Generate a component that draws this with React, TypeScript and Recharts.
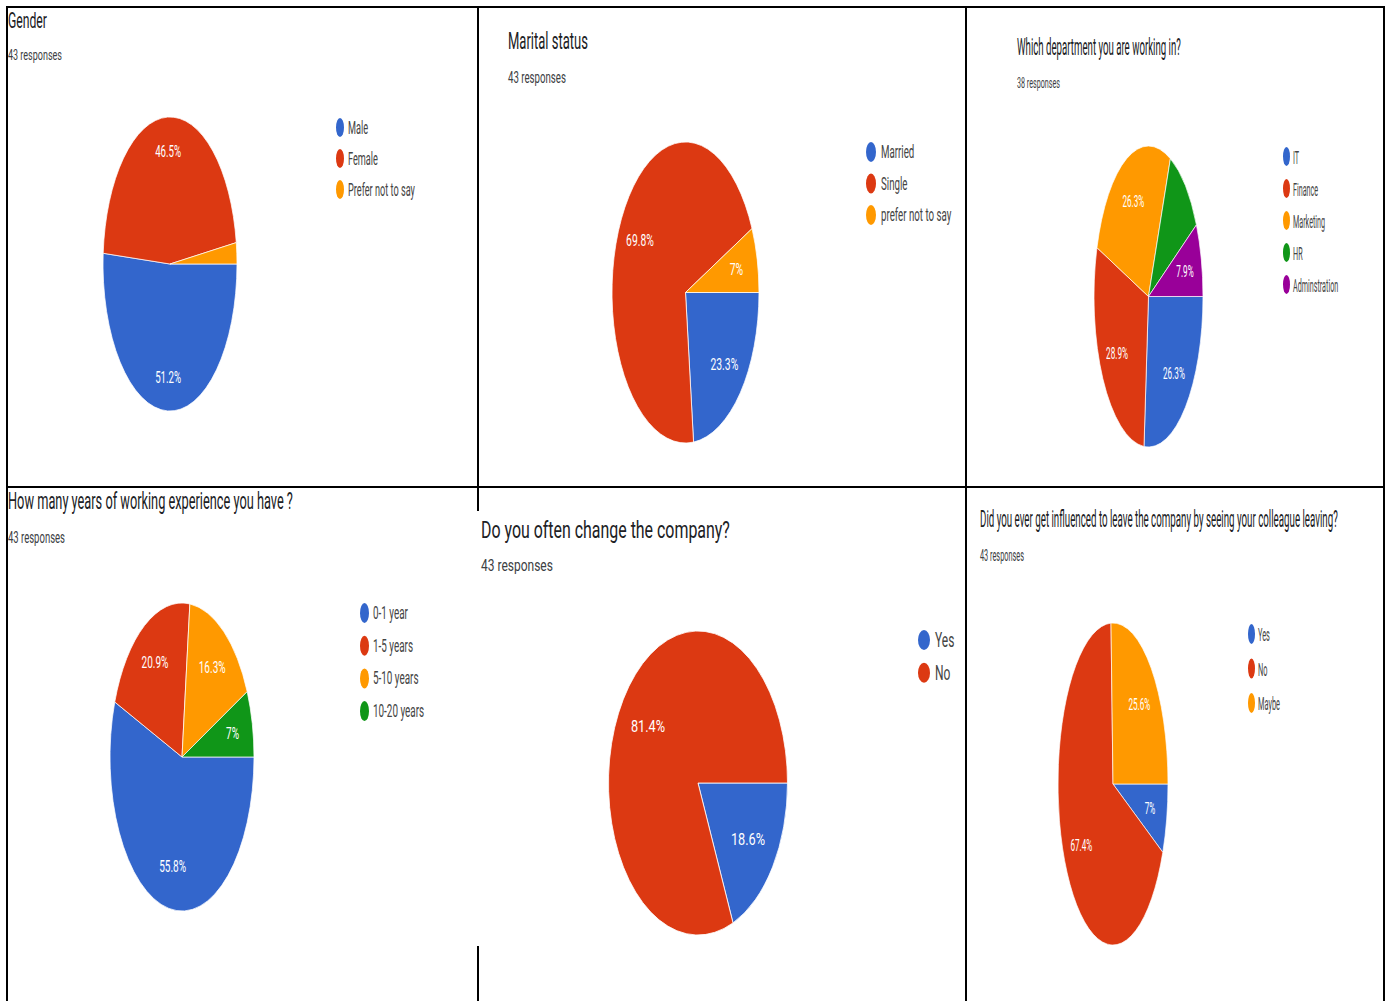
import { PieChart, Pie, Cell } from 'recharts';

// survey questions (Google Forms screenshots)
const titles = [
    'Gender',
    'Marital status',
    'Which department you are working in?',
    'How many years of working experience you have ?',
    'Do you often change the company?',
    'Did you ever get influenced to leave the company by seeing your colleague leaving?',
];
const responseCounts = [43, 43, 38, 43, 43, 43];

const genderCategories = ['Male', 'Female', 'Prefer not to say'];
const genderCounts = [22, 20, 1];

const maritalCategories = ['Married', 'Single', 'prefer not to say'];
const maritalCounts = [10, 30, 3];

const departmentCategories = ['IT', 'Finance', 'Marketing', 'HR', 'Adminstration'];
const departmentCounts = [10, 11, 10, 4, 3];

const experienceCategories = ['0-1 year', '1-5 years', '5-10 years', '10-20 years'];
const experienceCounts = [24, 9, 7, 3];

const changeCategories = ['Yes', 'No'];
const changeCounts = [8, 35];

const influenceCategories = ['Yes', 'No', 'Maybe'];
const influenceCounts = [3, 29, 11];

const SLICE_COLORS = ['#3366cc', '#dc3912', '#ff9900', '#109618', '#990099'];
const FONT = 'Roboto, Arial, sans-serif';

// layout of each screenshot tile (positions / sizes only)
const panels = [
    {
        categories: genderCategories, counts: genderCounts, hide: ['Prefer not to say'],
        pie: { cx: 170, cy: 264, rx: 67, ry: 147 }, labelR: 0.77, labelSx: 0.57,
        title: { x: 8, y: 27.5, size: 22, w: 39 }, sub: { x: 8, y: 60, size: 15, w: 54 },
        legend: { dotX: 340, dotRx: 4, dotRy: 9.5, textX: 348, y0: 127.5, dy: 31, size: 18, sx: 0.51 },
    },
    {
        categories: maritalCategories, counts: maritalCounts, hide: [],
        pie: { cx: 685.5, cy: 292.5, rx: 73.5, ry: 150.5 }, labelR: 0.71, labelSx: 0.61,
        title: { x: 508, y: 49, size: 24, w: 80 }, sub: { x: 508, y: 82.5, size: 16.5, w: 58 },
        legend: { dotX: 871, dotRx: 5, dotRy: 10, textX: 881, y0: 152, dy: 31.5, size: 18, sx: 0.54 },
    },
    {
        categories: departmentCategories, counts: departmentCounts, hide: ['HR'],
        pie: { cx: 1148.5, cy: 296.5, rx: 54.5, ry: 150.5 }, labelR: 0.69, labelSx: 0.48,
        title: { x: 1017, y: 55, size: 23, w: 164 }, sub: { x: 1017, y: 88, size: 15.5, w: 43 },
        legend: { dotX: 1286.5, dotRx: 3.5, dotRy: 9.5, textX: 1293, y0: 156.5, dy: 32, size: 18, sx: 0.4 },
    },
    {
        categories: experienceCategories, counts: experienceCounts, hide: [],
        pie: { cx: 182, cy: 757, rx: 72, ry: 154 }, labelR: 0.72, labelSx: 0.59,
        title: { x: 8, y: 509, size: 24, w: 285 }, sub: { x: 8, y: 543, size: 16, w: 57 },
        legend: { dotX: 364.5, dotRx: 4.5, dotRy: 10, textX: 373, y0: 613, dy: 32.7, size: 18, sx: 0.55 },
    },
    {
        categories: changeCategories, counts: changeCounts, hide: [],
        pie: { cx: 697.5, cy: 783, rx: 89.5, ry: 152 }, labelR: 0.67, labelSx: 0.75,
        title: { x: 481, y: 537.5, size: 24, w: 249 }, sub: { x: 481, y: 571, size: 17, w: 72 },
        legend: { dotX: 924, dotRx: 6, dotRy: 10, textX: 935, y0: 640, dy: 32.7, size: 20, sx: 0.6 },
    },
    {
        categories: influenceCategories, counts: influenceCounts, hide: [],
        pie: { cx: 1113, cy: 784, rx: 55, ry: 161 }, labelR: 0.69, labelSx: 0.48,
        title: { x: 980, y: 526.5, size: 23, w: 358 }, sub: { x: 980, y: 561, size: 16, w: 44 },
        legend: { dotX: 1251.5, dotRx: 3.5, dotRy: 10, textX: 1258, y0: 634, dy: 34.5, size: 18, sx: 0.41 },
    },
];

type PanelCfg = typeof panels[number];

// the screenshots are squeezed sideways, so text is scaled to the measured width
const measureCtx = document.createElement('canvas').getContext('2d');
function squeeze(str: string, size: number, target: number) {
    if (!measureCtx) return 1;
    measureCtx.font = `${size}px Roboto`;
    const w = measureCtx.measureText(str).width;
    return w > 0 ? target / w : 1;
}

function PiePanel({ cfg }: { cfg: PanelCfg }) {
    const { cx, cy, rx, ry } = cfg.pie;
    const S = Math.ceil(2 * ry + 6);
    const sx = rx / ry;
    const total = cfg.counts.reduce((a, b) => a + b, 0);
    const data = cfg.categories.map((name, i) => ({ name, value: cfg.counts[i] }));

    const renderLabel = (p: any) => {
        const name = cfg.categories[p.index];
        if (cfg.hide.includes(name)) return null;
        const RAD = Math.PI / 180;
        const r = p.outerRadius * cfg.labelR;
        const x = p.cx + r * Math.cos(-p.midAngle * RAD);
        const y = p.cy + r * Math.sin(-p.midAngle * RAD);
        const pct = parseFloat(((cfg.counts[p.index] / total) * 100).toFixed(1));
        return (
            <text
                key={`lbl-${p.index}`}
                transform={`translate(${x},${y}) scale(${cfg.labelSx / sx},1)`}
                textAnchor="middle"
                dominantBaseline="central"
                fill="#ffffff"
                fontSize={17}
                fontFamily={FONT}
            >
                {`${pct}%`}
            </text>
        );
    };

    return (
        <div
            style={{
                position: 'absolute', left: cx - S / 2, top: cy - S / 2, width: S, height: S,
                transform: `scaleX(${sx})`, transformOrigin: '50% 50%',
            }}
        >
            <PieChart width={S} height={S} margin={{ top: 0, right: 0, bottom: 0, left: 0 }}>
                <Pie
                    data={data}
                    dataKey="value"
                    nameKey="name"
                    cx="50%"
                    cy="50%"
                    outerRadius={ry}
                    startAngle={0}
                    endAngle={-360}
                    stroke="#ffffff"
                    strokeWidth={1}
                    label={renderLabel}
                    labelLine={false}
                    isAnimationActive={false}
                >
                    {data.map((_d, i) => (
                        <Cell key={`cell-${i}`} fill={SLICE_COLORS[i % SLICE_COLORS.length]} />
                    ))}
                </Pie>
            </PieChart>
        </div>
    );
}

export default function App() {
    return (
        <div style={{ position: 'absolute', left: 0, top: 0, width: 1388, height: 1001, background: '#fff', overflow: 'hidden' }}>
            {panels.map((cfg, i) => <PiePanel key={i} cfg={cfg} />)}

            <svg width={1388} height={1001} style={{ position: 'absolute', left: 0, top: 0, pointerEvents: 'none' }}>
                {/* tile borders */}
                <g stroke="#000" strokeWidth={2}>
                    <line x1={6} y1={7} x2={1385} y2={7} />
                    <line x1={6} y1={487} x2={1385} y2={487} />
                    <line x1={7} y1={6} x2={7} y2={1001} />
                    <line x1={478} y1={6} x2={478} y2={511} />
                    <line x1={478} y1={946} x2={478} y2={1001} />
                    <line x1={966} y1={6} x2={966} y2={1001} />
                    <line x1={1384} y1={6} x2={1384} y2={1001} />
                </g>

                {panels.map((cfg, i) => {
                    const subText = `${responseCounts[i]} responses`;
                    return (
                        <g key={`txt-${i}`} fontFamily={FONT}>
                            <text
                                transform={`translate(${cfg.title.x},${cfg.title.y}) scale(${squeeze(titles[i], cfg.title.size, cfg.title.w)},1)`}
                                fontSize={cfg.title.size} fill="#202124">
                                {titles[i]}
                            </text>
                            <text
                                transform={`translate(${cfg.sub.x},${cfg.sub.y}) scale(${squeeze(subText, cfg.sub.size, cfg.sub.w)},1)`}
                                fontSize={cfg.sub.size} fill="#3c4043">
                                {subText}
                            </text>
                            {cfg.categories.map((name, k) => {
                                const y = cfg.legend.y0 + k * cfg.legend.dy;
                                return (
                                    <g key={`lg-${k}`}>
                                        <ellipse cx={cfg.legend.dotX} cy={y} rx={cfg.legend.dotRx} ry={cfg.legend.dotRy}
                                            fill={SLICE_COLORS[k % SLICE_COLORS.length]} />
                                        <text transform={`translate(${cfg.legend.textX},${y + 0.5}) scale(${cfg.legend.sx},1)`}
                                            fontSize={cfg.legend.size} fill="#444" dominantBaseline="central">
                                            {name}
                                        </text>
                                    </g>
                                );
                            })}
                        </g>
                    );
                })}
            </svg>
        </div>
    );
}
